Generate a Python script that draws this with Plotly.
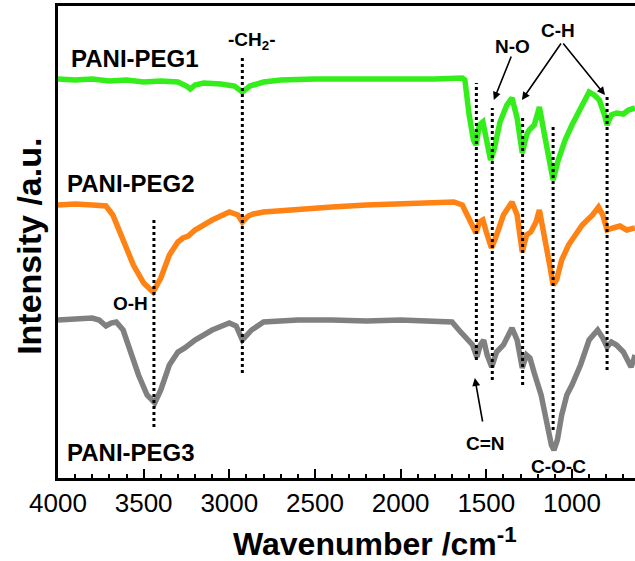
import plotly.graph_objects as go

# ---- data (wavenumber in cm^-1, intensity in arbitrary offset units) ----
wn_peg1 = [4000, 3900, 3800, 3700, 3600, 3500, 3400, 3300, 3250, 3228, 3200, 3150, 3050, 2970, 2924,
           2880, 2800, 2700, 2500, 2200, 2000, 1800, 1640, 1625, 1600, 1575, 1560, 1540, 1520, 1500,
           1475, 1455, 1420, 1380, 1350, 1320, 1290, 1265, 1250, 1220, 1190, 1160, 1130, 1110, 1080,
           1040, 1000, 950, 900, 870, 840, 810, 795, 770, 740, 700, 670, 632]
int_peg1 = [399, 398, 399, 397, 398, 396, 397, 396, 392, 389, 393, 395, 394, 392, 386,
            392, 396, 398, 399, 399, 398, 399, 400, 398, 363, 338, 333, 353, 356, 338,
            318, 328, 356, 373, 380, 360, 325, 343, 348, 353, 371, 343, 313, 298, 318,
            338, 353, 370, 386, 383, 378, 363, 353, 363, 365, 364, 368, 370]

wn_peg2 = [4000, 3900, 3800, 3720, 3680, 3620, 3560, 3500, 3445, 3400, 3350, 3300, 3270, 3240, 3200,
           3100, 3000, 2950, 2924, 2890, 2860, 2800, 2600, 2400, 2200, 2000, 1800, 1690, 1640, 1620,
           1600, 1575, 1560, 1540, 1520, 1500, 1470, 1450, 1400, 1350, 1320, 1290, 1265, 1240, 1210,
           1190, 1160, 1130, 1110, 1090, 1060, 1020, 980, 940, 880, 845, 820, 795, 760, 720, 680, 632]
int_peg2 = [273, 274, 273, 272, 263, 238, 213, 195, 186, 200, 223, 236, 240, 242, 248,
            258, 266, 263, 256, 262, 264, 266, 269, 271, 273, 274, 275, 276, 273, 266,
            260, 250, 245, 256, 258, 246, 230, 238, 263, 276, 263, 226, 243, 246, 256,
            268, 243, 213, 193, 198, 218, 233, 243, 253, 263, 271, 263, 248, 250, 252, 248, 250]

wn_peg3 = [4000, 3900, 3800, 3760, 3720, 3690, 3660, 3620, 3580, 3530, 3480, 3435, 3400, 3350, 3300,
           3260, 3200, 3100, 3000, 2960, 2924, 2900, 2870, 2800, 2600, 2400, 2200, 2000, 1800, 1700,
           1660, 1620, 1580, 1555, 1535, 1515, 1495, 1468, 1440, 1400, 1350, 1320, 1290, 1265, 1245,
           1220, 1180, 1150, 1120, 1105, 1085, 1060, 1030, 1000, 950, 900, 850, 820, 795, 770, 740,
           700, 670, 655, 640, 632]
int_peg3 = [158, 159, 160, 158, 152, 155, 156, 148, 128, 103, 83, 75, 88, 113, 126,
            130, 138, 148, 155, 152, 138, 143, 148, 156, 158, 158, 157, 158, 157, 156,
            148, 141, 133, 121, 133, 138, 123, 111, 126, 133, 150, 138, 110, 123, 120,
            105, 83, 58, 33, 28, 38, 63, 83, 93, 113, 138, 148, 140, 131, 136, 133,
            126, 115, 111, 118, 123]

# marker (dotted) lines: wavenumber, top, bottom
mark_wn = [3440, 2924, 1558, 1465, 1288, 1110, 795]
mark_top = [261, 420, 395, 370, 363, 351, 383]
mark_bot = [51, 105, 118, 98, 93, 48, 108]

series_names = ["PANI-PEG1", "PANI-PEG2", "PANI-PEG3"]
series_colors = ["#33EE1A", "#FF8214", "#808080"]

FONT = "Arial, Liberation Sans, sans-serif"

fig = go.Figure()
for wn, it, col, nm in zip([wn_peg1, wn_peg2, wn_peg3], [int_peg1, int_peg2, int_peg3],
                           series_colors, series_names):
    fig.add_trace(go.Scatter(x=wn, y=it, mode="lines", name=nm,
                             line=dict(color=col, width=5.5), showlegend=False))

for w, t, b in zip(mark_wn, mark_top, mark_bot):
    fig.add_shape(type="line", x0=w, x1=w, y0=b, y1=t, xref="x", yref="y",
                  line=dict(color="black", width=3, dash="dot"), layer="above")

# series labels
lab_x = [3935, 3960, 3960]
lab_y = [420, 295, 26]
for nm, lx, ly in zip(series_names, lab_x, lab_y):
    fig.add_annotation(x=lx, y=ly, text="<b>%s</b>" % nm, showarrow=False, xanchor="left",
                       yanchor="middle", font=dict(family=FONT, size=24, color="black"))

# band labels
band_text = ["-CH<sub>2</sub>-", "O-H", "N-O", "C-H", "C=N", "C-O-C"]
band_x = [2865, 3579, 1345, 1082, 1503, 1076]
band_y = [437, 175, 432, 448, 35, 12]
for t, bx, by in zip(band_text, band_x, band_y):
    fig.add_annotation(x=bx, y=by, text="<b>%s</b>" % t, showarrow=False,
                       yanchor="middle", font=dict(family=FONT, size=19, color="black"))

# arrows: head (x, y) and tail (ax, ay)
arr_x = [1456, 1292, 807, 1567]
arr_y = [378, 378, 383, 100]
arr_ax = [1351, 1058, 1058, 1520]
arr_ay = [423, 436, 436, 55]
for hx, hy, tx, ty in zip(arr_x, arr_y, arr_ax, arr_ay):
    fig.add_annotation(x=hx, y=hy, ax=tx, ay=ty, xref="x", yref="y", axref="x", ayref="y",
                       text="", showarrow=True, arrowhead=2, arrowsize=1, arrowwidth=1.6,
                       arrowcolor="black")

# axis titles
fig.add_annotation(xref="paper", yref="paper", x=-0.05, y=0.49, textangle=-90,
                   xanchor="center", yanchor="middle",
                   text="<b>Intensity /a.u.</b>", showarrow=False,
                   font=dict(family=FONT, size=34, color="black"))
fig.add_annotation(xref="paper", yref="paper", x=0.549, y=-0.135,
                   xanchor="center", yanchor="middle",
                   text="<b>Wavenumber /cm<sup>-1</sup></b>", showarrow=False,
                   font=dict(family=FONT, size=32, color="black"))

fig.update_layout(
    width=635, height=561,
    margin=dict(l=58, r=0, t=6, b=83),
    paper_bgcolor="white", plot_bgcolor="white",
    xaxis=dict(range=[4000, 632], tickmode="linear", tick0=0, dtick=500,
               ticks="inside", ticklen=9, tickwidth=2, tickcolor="black",
               showline=True, linewidth=2.5, linecolor="black", mirror=True,
               showgrid=False, zeroline=False,
               tickfont=dict(family=FONT, size=26, color="black"),
               minor=dict(dtick=100, ticks="inside", ticklen=4, tickwidth=2, tickcolor="black",
                          showgrid=False)),
    yaxis=dict(range=[0, 472], showticklabels=False, ticks="", showline=True, linewidth=2.5,
               linecolor="black", showgrid=False, zeroline=False),
)

fig.write_html("out.html")
